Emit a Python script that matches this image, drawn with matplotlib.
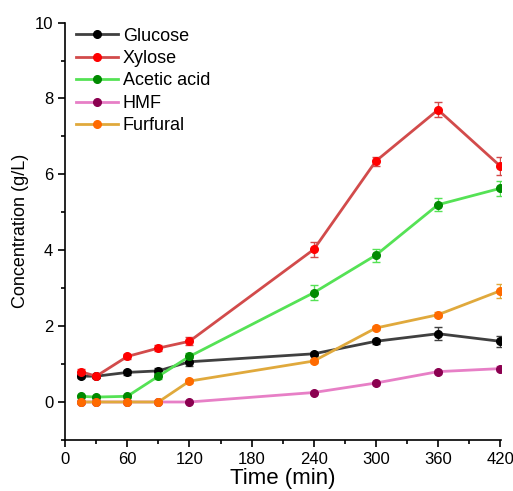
import numpy as np
import matplotlib
matplotlib.use("Agg")
import matplotlib.pyplot as plt
from matplotlib.lines import Line2D
from matplotlib.ticker import MultipleLocator

plt.rcParams['font.family'] = ['Liberation Sans', 'DejaVu Sans']

# sampling times (min)
time = [15, 30, 60, 90, 120, 240, 300, 360, 420]

glucose = [0.68, 0.68, 0.78, 0.82, 1.06, 1.27, 1.60, 1.80, 1.60]
glucose_err = [0.06, 0.04, 0.06, 0.07, 0.10, 0.06, 0.07, 0.17, 0.15]
xylose = [0.80, 0.68, 1.20, 1.42, 1.60, 4.02, 6.35, 7.70, 6.22]
xylose_err = [0.07, 0.06, 0.07, 0.07, 0.10, 0.20, 0.12, 0.20, 0.25]
acetic = [0.15, 0.13, 0.15, 0.68, 1.20, 2.88, 3.87, 5.20, 5.63]
acetic_err = [0.04, 0.03, 0.04, 0.08, 0.08, 0.20, 0.17, 0.17, 0.20]
hmf = [0.0, 0.0, 0.0, 0.0, 0.0, 0.25, 0.50, 0.80, 0.88]
hmf_err = [0.01, 0.01, 0.01, 0.01, 0.02, 0.03, 0.05, 0.05, 0.07]
furfural = [0.0, 0.0, 0.0, 0.0, 0.55, 1.08, 1.95, 2.30, 2.93]
furfural_err = [0.01, 0.01, 0.01, 0.01, 0.05, 0.06, 0.06, 0.06, 0.18]

series = [
    ("Glucose", glucose, glucose_err, "#404040", "#000000"),
    ("Xylose", xylose, xylose_err, "#d24b4b", "#ff0000"),
    ("Acetic acid", acetic, acetic_err, "#55e255", "#008a00"),
    ("HMF", hmf, hmf_err, "#e77fc6", "#8b0050"),
    ("Furfural", furfural, furfural_err, "#e0a93c", "#ff6a00"),
]

fig = plt.figure(figsize=(5.13, 4.91), dpi=100)
ax = fig.add_axes([0.127, 0.104, 0.850, 0.850])

handles = []
for name, vals, err, lc, mc in series:
    ax.errorbar(time, vals, yerr=err, color=lc, lw=2, marker='o', ms=5.5,
                mfc=mc, mec=mc, ecolor=lc, elinewidth=1, capsize=3,
                capthick=1)
    handles.append(Line2D([], [], color=lc, lw=2, marker='o', ms=5.5,
                          mfc=mc, mec=mc, label=name))

ax.set_xlim(0, 421)
ax.set_ylim(-1, 10)
ax.xaxis.set_major_locator(MultipleLocator(60))
ax.xaxis.set_minor_locator(MultipleLocator(30))
ax.yaxis.set_major_locator(MultipleLocator(2))
ax.yaxis.set_minor_locator(MultipleLocator(1))
ax.spines['top'].set_visible(False)
ax.spines['right'].set_visible(False)
for s in ('left', 'bottom'):
    ax.spines[s].set_linewidth(1.2)
ax.tick_params(which='both', direction='out', width=1.2, labelsize=12)
ax.tick_params(which='major', length=5)
ax.tick_params(which='minor', length=3)

ax.set_xlabel("Time (min)", fontsize=16, labelpad=1)
ax.set_ylabel("Concentration (g/L)", fontsize=13, labelpad=4)

ax.legend(handles=handles, loc='upper left', frameon=False, fontsize=13,
          handlelength=2.3, handletextpad=0.28, labelspacing=0.3,
          borderpad=0, borderaxespad=0, bbox_to_anchor=(0.025, 0.988))

fig.savefig("out.png", dpi=100)
